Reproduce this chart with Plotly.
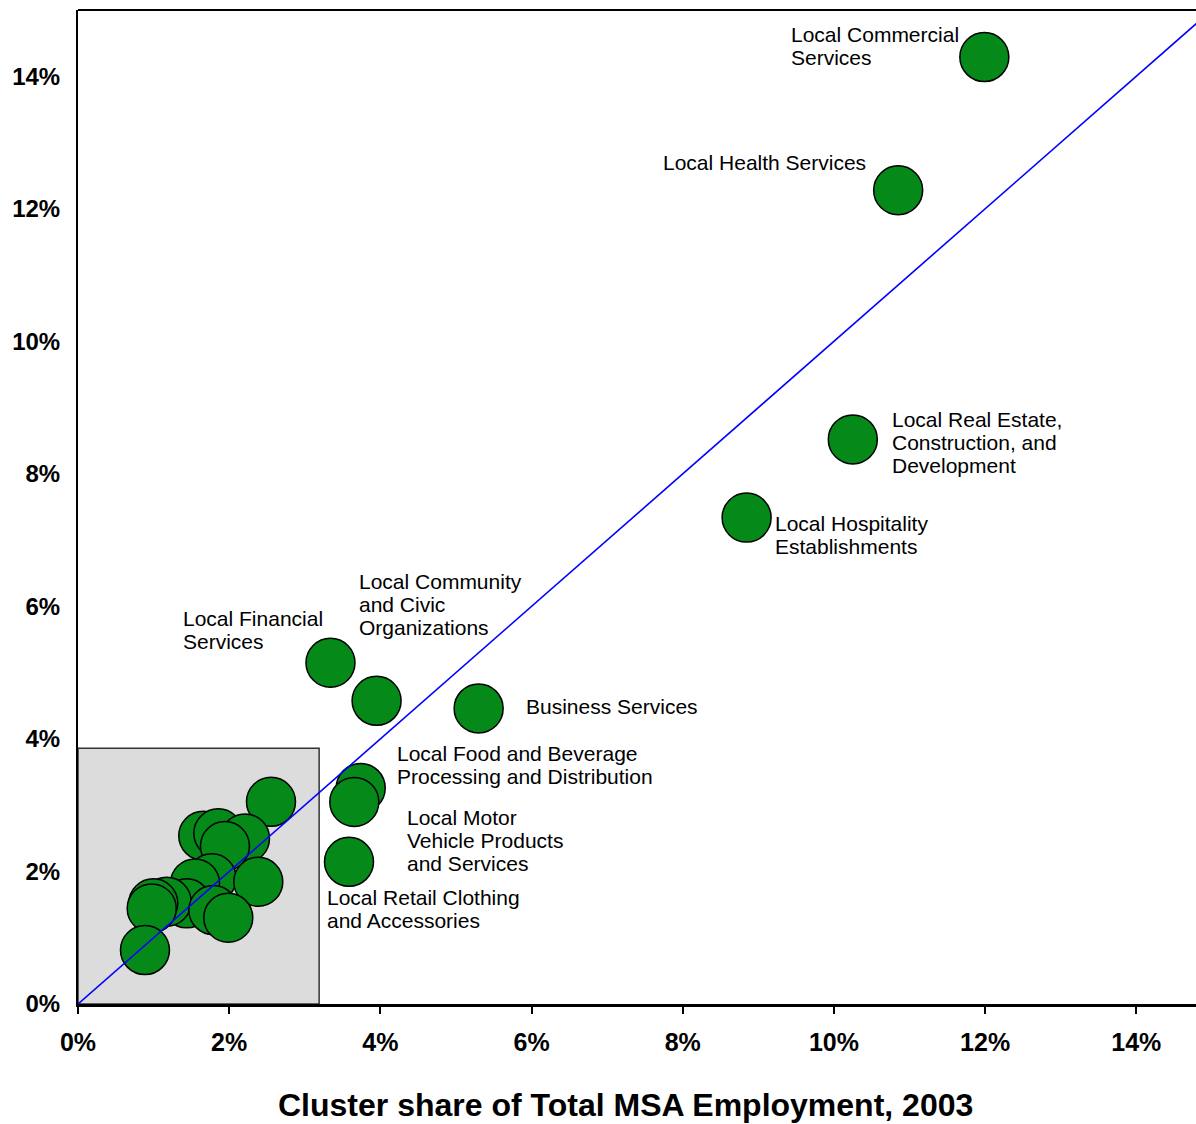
import plotly.graph_objects as go

# ---- data (percent) ----
labeled_names = [
    "Local Commercial<br>Services",
    "Local Health Services",
    "Local Real Estate,<br>Construction, and<br>Development",
    "Local Hospitality<br>Establishments",
    "Local Financial<br>Services",
    "Local Community<br>and Civic<br>Organizations",
    "Business Services",
    "Local Food and Beverage<br>Processing and Distribution",
    "Local Motor<br>Vehicle Products<br>and Services",
    "Local Retail Clothing<br>and Accessories",
]
labeled_x = [11.99, 10.85, 10.25, 8.845, 3.34, 3.95, 5.30, 3.74, 3.655, 3.585]
labeled_y = [14.29, 12.28, 8.52, 7.34, 5.15, 4.575, 4.46, 3.26, 3.05, 2.146]

# unlabeled clusters in the lower-left box
other_x = [2.553, 1.657, 1.856, 2.209, 1.944, 1.769, 1.548, 2.385,
           1.438, 1.173, 0.996, 0.975, 1.790, 1.988, 0.886]
other_y = [3.051, 2.538, 2.575, 2.499, 2.383, 1.896, 1.820, 1.845,
           1.519, 1.543, 1.519, 1.443, 1.418, 1.302, 0.814]

# reference line y = x and the shaded box
diag = [0, 15]
box_x = [0, 3.19]
box_y = [0, 3.86]

tick_vals = [0, 2, 4, 6, 8, 10, 12, 14]
tick_text = ["0%", "2%", "4%", "6%", "8%", "10%", "12%", "14%"]
x_title = "Cluster share of Total MSA Employment, 2003"

# ---- label placement (pixel offsets from bubble centre: dx, [dy per line], screen y down) ----
label_offsets = [
    (-195, [-23, 0]),
    (-237, [-28]),
    (37, [-20, 3, 26]),
    (26, [6, 29]),
    (-149, [-44, -21]),
    (-20, [-119, -96, -73]),
    (45, [-2]),
    (34, [-34, -11]),
    (51, [16, 39, 62]),
    (-24, [36, 59]),
]

GREEN = "#058a19"
FONT = "Liberation Sans, Arial, sans-serif"

fig = go.Figure()

fig.add_shape(type="rect", x0=box_x[0], x1=box_x[1], y0=box_y[0], y1=box_y[1],
              xref="x", yref="y", fillcolor="#dcdcdc",
              line=dict(color="#333333", width=1.5), layer="below")

fig.add_trace(go.Scatter(
    x=labeled_x + other_x, y=labeled_y + other_y, mode="markers",
    marker=dict(size=49, color=GREEN, line=dict(color="black", width=1.5)),
    hoverinfo="skip", showlegend=False, cliponaxis=False))

fig.add_trace(go.Scatter(
    x=diag, y=diag, mode="lines", line=dict(color="#0000ff", width=1.6),
    hoverinfo="skip", showlegend=False))

annotations = []
for name, xv, yv, (dx, dys) in zip(labeled_names, labeled_x, labeled_y, label_offsets):
    for line, dy in zip(name.split("<br>"), dys):
        annotations.append(dict(
            x=xv, y=yv, xref="x", yref="y", text=line, showarrow=False,
            xanchor="left", yanchor="middle", xshift=dx, yshift=-dy,
            font=dict(family=FONT, size=21, color="black")))

annotations.append(dict(
    x=0.49, y=-0.102, xref="paper", yref="paper", text="<b>" + x_title + "</b>",
    showarrow=False, xanchor="center", yanchor="middle",
    font=dict(family=FONT, size=32, color="black")))

# top border
fig.add_shape(type="line", xref="paper", yref="paper", x0=0, x1=1, y0=1, y1=1,
              line=dict(color="black", width=2))

fig.update_layout(
    width=1196, height=1124,
    margin=dict(l=78, r=0, t=10, b=120),
    paper_bgcolor="white", plot_bgcolor="white",
    font=dict(family=FONT, color="black"),
    annotations=annotations,
    showlegend=False,
    xaxis=dict(range=[0, 14.79], tickvals=tick_vals, ticktext=["<b>%s</b>" % t for t in tick_text],
               showgrid=False, zeroline=False, showline=True, linecolor="black", linewidth=3,
               ticks="outside", ticklen=7, tickwidth=2, tickcolor="black",
               ticklabelstandoff=7, tickfont=dict(size=25, family=FONT)),
    yaxis=dict(range=[0, 15], tickvals=tick_vals, ticktext=["<b>%s</b>" % t for t in tick_text],
               showgrid=False, zeroline=False, showline=True, linecolor="black", linewidth=2,
               ticks="", ticklabelstandoff=11, tickfont=dict(size=24, family=FONT)),
)

fig.write_html("out.html", config={"displayModeBar": False},
               post_script="document.body.style.margin='0';document.body.style.overflow='hidden';")
